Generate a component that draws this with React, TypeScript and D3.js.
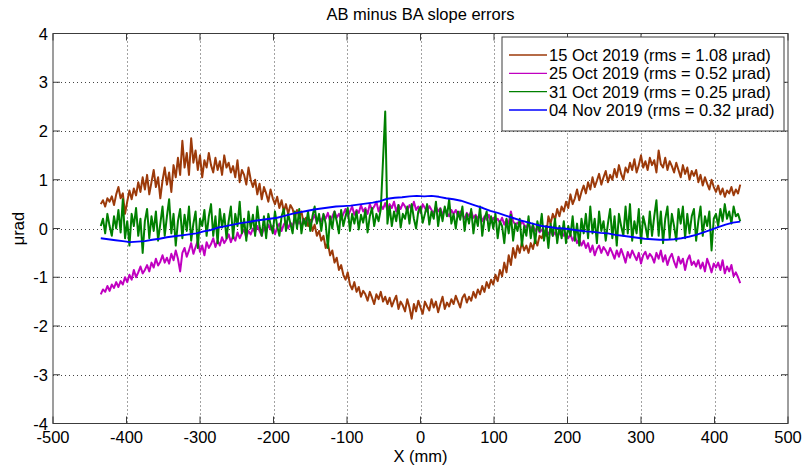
import React from "react";
import * as d3 from "d3";

const xTicks = [-500, -400, -300, -200, -100, 0, 100, 200, 300, 400, 500];
const yTicks = [-4, -3, -2, -1, 0, 1, 2, 3, 4];
const seriesNames = [
  "15 Oct 2019 (rms = 1.08 \u03bcrad)",
  "25 Oct 2019 (rms = 0.52 \u03bcrad)",
  "31 Oct 2019 (rms = 0.25 \u03bcrad)",
  "04 Nov 2019 (rms = 0.32 \u03bcrad)",
];
const seriesColors = ["#9c3a0a", "#c000c0", "#008000", "#0000ff"];

// sampling grid (mm) for the noisy series: -435..435 step 3
const xNoisy = d3.range(-435, 435.5, 3);
// sampling grid (mm) for the smooth series: -435..435 step 10
const xSmooth = d3.range(-435, 436, 10);

const oct15 = [
  0.50, 0.58, 0.45, 0.62, 0.55, 0.66, 0.48, 0.70, 0.85, 0.62,
  0.72, 0.30, 0.55, 0.78, 0.60, 0.82, 0.68, 0.95, 0.75, 1.05,
  0.80, 1.10, 0.70, 0.95, 1.20, 0.85, 1.05, 0.62, 0.98, 1.25,
  0.90, 1.15, 0.75, 1.30, 1.05, 1.45, 1.10, 1.80, 1.25, 1.55,
  1.10, 1.85, 1.35, 1.60, 1.20, 1.50, 1.05, 1.40, 1.25, 1.55,
  1.30, 1.15, 1.45, 1.20, 1.38, 1.10, 1.50, 1.25, 1.35, 1.15,
  1.28, 1.05, 1.40, 0.95, 1.20, 1.10, 0.90, 1.25, 1.00, 0.85,
  1.00, 0.70, 0.92, 0.60, 0.85, 0.72, 0.55, 0.80, 0.62, 0.50,
  0.65, 0.42, 0.58, 0.35, 0.50, 0.30, 0.48, 0.40, 0.22, 0.38,
  0.25, 0.35, 0.10, 0.22, 0.05, 0.18, -0.05, 0.08, -0.15, -0.05,
  -0.25, -0.15, -0.40, -0.30, -0.55, -0.45, -0.70, -0.60, -0.85, -0.75,
  -0.95, -1.05, -0.90, -1.15, -1.25, -1.10, -1.30, -1.20, -1.40, -1.28,
  -1.35, -1.48, -1.30, -1.42, -1.55, -1.35, -1.45, -1.30, -1.50, -1.40,
  -1.55, -1.42, -1.60, -1.48, -1.38, -1.65, -1.50, -1.58, -1.70, -1.45,
  -1.62, -1.85, -1.55, -1.70, -1.48, -1.62, -1.75, -1.50, -1.60, -1.68,
  -1.45, -1.62, -1.50, -1.72, -1.55, -1.40, -1.65, -1.52, -1.60, -1.45,
  -1.55, -1.38, -1.50, -1.62, -1.42, -1.35, -1.52, -1.40, -1.48, -1.30,
  -1.42, -1.25, -1.35, -1.18, -1.30, -1.10, -1.22, -1.05, -1.15, -0.95,
  -1.08, -0.85, -0.98, -0.70, -0.90, -0.55, -0.75, -0.40, -0.60, -0.35,
  -0.50, -0.28, -0.45, -0.35, -0.50, -0.30, -0.42, -0.22, -0.35, -0.15,
  -0.20, -0.05, -0.15, 0.25, 0.10, 0.30, 0.18, 0.40, 0.25, 0.45,
  0.35, 0.55, 0.42, 0.70, 0.50, 0.62, 0.80, 0.58, 0.75, 0.88,
  0.72, 0.95, 0.80, 1.05, 0.85, 0.98, 1.12, 0.90, 1.05, 1.18,
  0.95, 1.10, 1.00, 1.22, 1.05, 1.30, 1.12, 1.00, 1.25, 1.15,
  1.35, 1.20, 1.42, 1.15, 1.30, 1.50, 1.25, 1.38, 1.20, 1.45,
  1.30, 1.40, 1.15, 1.60, 1.32, 1.25, 1.45, 1.20, 1.38, 1.28,
  1.15, 1.35, 1.20, 1.05, 1.30, 1.12, 1.25, 1.00, 1.18, 1.08,
  1.20, 0.95, 1.10, 0.88, 1.05, 0.92, 0.80, 1.00, 0.85, 0.75,
  0.88, 0.70, 0.82, 0.65, 0.78, 0.72, 0.85, 0.68, 0.80, 0.72,
  0.90,
];

const oct25 = [
  -1.35, -1.25, -1.30, -1.18, -1.28, -1.15, -1.22, -1.10, -1.20, -1.08,
  -1.15, -1.00, -1.10, -0.95, -1.05, -0.85, -1.00, -0.90, -0.78, -0.92,
  -0.85, -0.75, -0.88, -0.70, -0.80, -0.62, -0.76, -0.68, -0.55, -0.70,
  -0.60, -0.72, -0.52, -0.65, -0.45, -0.62, -0.88, -0.50, -0.40, -0.58,
  -0.45, -0.30, -0.52, -0.38, -0.25, -0.48, -0.35, -0.55, -0.28, -0.40,
  -0.32, -0.20, -0.38, -0.25, -0.35, -0.18, -0.30, -0.22, -0.12, -0.28,
  -0.15, -0.25, -0.08, -0.20, -0.10, -0.02, -0.18, -0.05, -0.12, 0.00,
  -0.08, 0.05, -0.05, -0.15, 0.02, -0.08, 0.08, -0.02, 0.05, -0.12,
  0.02, 0.10, -0.05, 0.08, 0.15, 0.00, 0.12, 0.05, 0.18, 0.08,
  0.15, 0.05, 0.20, 0.10, 0.25, 0.08, 0.18, 0.28, 0.12, 0.22,
  0.15, 0.28, 0.20, 0.32, 0.15, 0.25, 0.35, 0.22, 0.30, 0.18,
  0.30, 0.40, 0.25, 0.35, 0.45, 0.28, 0.38, 0.32, 0.48, 0.35,
  0.42, 0.30, 0.50, 0.38, 0.45, 0.55, 0.35, 0.48, 0.40, 0.52,
  0.38, 0.50, 0.42, 0.55, 0.35, 0.48, 0.40, 0.52, 0.45, 0.36,
  0.48, 0.40, 0.55, 0.38, 0.45, 0.32, 0.50, 0.42, 0.35, 0.46,
  0.38, 0.30, 0.45, 0.35, 0.42, 0.28, 0.40, 0.32, 0.25, 0.38,
  0.30, 0.38, 0.25, 0.35, 0.28, 0.20, 0.32, 0.25, 0.35, 0.22,
  0.28, 0.20, 0.30, 0.15, 0.25, 0.18, 0.28, 0.12, 0.22, 0.15,
  0.20, 0.12, 0.22, 0.08, 0.18, 0.10, 0.35, 0.15, 0.08, 0.12,
  0.05, 0.15, 0.08, 0.02, 0.10, -0.02, 0.06, -0.05, 0.02, -0.08,
  -0.02, -0.10, 0.00, -0.12, -0.05, -0.15, -0.08, -0.18, -0.10, -0.05,
  -0.15, -0.10, -0.20, -0.12, -0.25, -0.15, -0.30, -0.22, -0.35, -0.25,
  -0.40, -0.30, -0.48, -0.35, -0.55, -0.42, -0.35, -0.50, -0.38, -0.45,
  -0.55, -0.40, -0.50, -0.62, -0.45, -0.58, -0.42, -0.55, -0.70, -0.48,
  -0.60, -0.45, -0.55, -0.65, -0.50, -0.72, -0.55, -0.48, -0.62, -0.52,
  -0.58, -0.70, -0.50, -0.62, -0.45, -0.68, -0.55, -0.75, -0.60, -0.52,
  -0.68, -0.80, -0.58, -0.72, -0.62, -0.85, -0.65, -0.55, -0.75, -0.68,
  -0.78, -0.65, -0.82, -0.70, -0.88, -0.62, -0.75, -0.90, -0.72, -0.80,
  -0.70, -0.85, -0.65, -0.92, -0.78, -0.88, -0.75, -0.98, -0.90, -1.00,
  -1.12,
];

const oct31 = [
  0.05, 0.20, -0.10, 0.30, 0.05, -0.15, 0.25, 0.00, 0.38, -0.08,
  0.60, -0.20, 0.15, -0.35, 0.30, 0.05, 0.42, -0.15, 0.20, -0.50,
  0.15, 0.40, -0.20, 0.25, -0.05, 0.35, -0.25, 0.10, 0.45, -0.15,
  0.25, 0.60, -0.10, 0.30, -0.35, 0.15, 0.40, -0.20, 0.28, -0.05,
  0.45, -0.25, 0.10, 0.35, -0.40, 0.20, 0.05, 0.38, -0.15, 0.25,
  0.50, -0.15, 0.25, -0.30, 0.40, 0.02, 0.30, -0.20, 0.15, 0.45,
  -0.20, 0.30, 0.05, 0.55, -0.10, 0.20, -0.25, 0.35, 0.00, 0.28,
  -0.15, 0.45, 0.05, -0.15, 0.25, -0.20, 0.30, 0.08, -0.10, 0.35,
  0.05, -0.15, 0.25, 0.40, -0.05, 0.30, 0.10, -0.10, 0.35, 0.00,
  0.40, -0.10, 0.20, 0.05, 0.35, -0.05, 0.25, 0.45, 0.10, 0.30,
  -0.05, 0.30, 0.10, -0.40, 0.25, 0.00, 0.35, 0.15, -0.10, 0.38,
  0.05, 0.25, 0.42, -0.05, 0.30, 0.10, 0.35, -0.02, 0.28, 0.12,
  0.38, -0.08, 0.25, 0.42, 0.05, 0.30, 0.15, 0.40, 1.40, 2.40,
  0.10, 0.45, 0.05, 0.35, 0.15, 0.48, 0.02, 0.30, 0.20, 0.45,
  0.10, 0.50, 0.20, 0.00, 0.35, 0.45, 0.12, 0.30, 0.50, 0.08,
  0.35, 0.20, 0.55, 0.05, 0.40, 0.15, 0.45, 0.25, 0.60, 0.10,
  0.30, 0.00, 0.35, 0.18, 0.45, -0.05, 0.30, 0.10, 0.40, -0.10,
  0.25, 0.05, 0.45, -0.15, 0.20, 0.35, -0.05, 0.25, 0.00, 0.30,
  -0.20, 0.15, 0.05, -0.30, 0.20, -0.10, 0.28, -0.25, 0.10, -0.05,
  0.20, -0.35, 0.05, -0.15, 0.25, -0.20, 0.10, -0.30, 0.15, -0.05,
  0.30, -0.25, 0.05, -0.40, 0.10, -0.15, 0.20, -0.30, 0.05, -0.20,
  0.15, -0.30, 0.05, -0.15, 0.25, -0.25, 0.10, -0.35, 0.20, -0.10,
  0.30, -0.20, 0.45, -0.10, 0.20, -0.30, 0.35, -0.05, 0.15, -0.25,
  0.10, 0.40, -0.20, 0.25, -0.35, 0.30, 0.05, -0.15, 0.45, -0.10,
  0.50, -0.25, 0.15, -0.10, 0.40, -0.30, 0.25, 0.05, -0.20, 0.35,
  -0.15, 0.25, 0.58, -0.15, 0.35, -0.30, 0.20, 0.45, -0.20, 0.30,
  0.05, -0.25, 0.40, 0.10, 0.45, -0.20, 0.30, -0.10, 0.25, 0.40,
  -0.25, 0.15, 0.45, -0.15, 0.25, 0.05, 0.35, -0.45, 0.20, 0.30,
  0.05, 0.40, 0.15, 0.50, 0.20, 0.35, 0.10, 0.45, 0.25, 0.30,
  0.15,
];

const nov04 = [
  -0.2, -0.22, -0.24, -0.26, -0.28, -0.27, -0.26, -0.23, -0.21, -0.18,
  -0.16, -0.14, -0.12, -0.1, -0.06, -0.03, 0.02, 0.05, 0.08, 0.11,
  0.13, 0.16, 0.18, 0.2, 0.22, 0.26, 0.3, 0.33, 0.36, 0.39,
  0.41, 0.43, 0.45, 0.46, 0.47, 0.49, 0.51, 0.53, 0.56, 0.61,
  0.63, 0.64, 0.66, 0.67, 0.66, 0.67, 0.65, 0.62, 0.6, 0.57,
  0.52, 0.47, 0.42, 0.36, 0.32, 0.27, 0.22, 0.17, 0.13, 0.09,
  0.05, 0.03, 0.01, 0.0, -0.02, -0.04, -0.06, -0.07, -0.09, -0.1,
  -0.13, -0.15, -0.17, -0.19, -0.21, -0.22, -0.23, -0.23, -0.22, -0.2,
  -0.17, -0.13, -0.08, -0.03, 0.03, 0.08, 0.12, 0.14,
];

const seriesData = [
  { x: xNoisy, y: oct15 },
  { x: xNoisy, y: oct25 },
  { x: xNoisy, y: oct31 },
  { x: xSmooth, y: nov04 },
];

const W = 804;
const H = 466;
const left = 53;
const right = 788;
const top = 33.5;
const bottom = 423.5;

export default function App() {
  const xs = d3.scaleLinear().domain([-500, 500]).range([left, right]);
  const ys = d3.scaleLinear().domain([-4, 4]).range([bottom, top]);
  const font = "'Liberation Sans', Arial, sans-serif";
  const tickLen = 7;
  const axisColor = "#3c3c3c";
  const fs = 16.5;

  const line = d3
    .line<[number, number]>()
    .x((d) => xs(d[0]))
    .y((d) => ys(d[1]));

  const legX = 502;
  const legY = 37;
  const legW = 282;
  const legH = 94;
  const rowY = [55, 73.3, 91.6, 110];

  return (
    <svg
      width={W}
      height={H}
      style={{ position: "absolute", left: 0, top: 0, background: "#fff" }}
      fontFamily={font}
    >
      <rect x={0} y={0} width={W} height={H} fill="#fff" />
      {/* grid */}
      {xTicks.slice(1, -1).map((t) => (
        <line
          key={"gx" + t}
          x1={Math.round(xs(t)) + 0.5}
          x2={Math.round(xs(t)) + 0.5}
          y1={top}
          y2={bottom}
          stroke="#444"
          strokeWidth={1}
          strokeDasharray="1,3"
        />
      ))}
      {yTicks.slice(1, -1).map((t) => (
        <line
          key={"gy" + t}
          x1={left}
          x2={right}
          y1={Math.round(ys(t)) + 0.5}
          y2={Math.round(ys(t)) + 0.5}
          stroke="#444"
          strokeWidth={1}
          strokeDasharray="1,3"
        />
      ))}
      <defs>
        <clipPath id="clip">
          <rect x={left} y={top} width={right - left} height={bottom - top} />
        </clipPath>
      </defs>
      {/* data */}
      <g clipPath="url(#clip)">
        {seriesData.map((s, i) => (
          <path
            key={i}
            d={line(s.x.map((xv, j) => [xv, s.y[j]] as [number, number])) || ""}
            fill="none"
            stroke={seriesColors[i]}
            strokeWidth={i === 3 ? 1.9 : 2}
            strokeLinejoin="round"
          />
        ))}
      </g>
      {/* ticks */}
      {xTicks.map((t) => (
        <g key={"tx" + t}>
          <line x1={xs(t)} x2={xs(t)} y1={bottom} y2={bottom - tickLen} stroke={axisColor} />
          <line x1={xs(t)} x2={xs(t)} y1={top} y2={top + tickLen} stroke={axisColor} />
          <text x={xs(t)} y={443} textAnchor="middle" fontSize={fs} fill="#000">
            {t}
          </text>
        </g>
      ))}
      {yTicks.map((t) => (
        <g key={"ty" + t}>
          <line x1={left} x2={left + tickLen} y1={ys(t)} y2={ys(t)} stroke={axisColor} />
          <line x1={right} x2={right - tickLen} y1={ys(t)} y2={ys(t)} stroke={axisColor} />
          <text x={48} y={ys(t) + 6} textAnchor="end" fontSize={fs} fill="#000">
            {t}
          </text>
        </g>
      ))}
      {/* box */}
      <rect
        x={left}
        y={top}
        width={right - left}
        height={bottom - top}
        fill="none"
        stroke={axisColor}
        strokeWidth={1}
      />
      {/* title and labels */}
      <text x={(left + right) / 2} y={20} textAnchor="middle" fontSize={fs} fill="#000">
        AB minus BA slope errors
      </text>
      <text x={(left + right) / 2} y={462} textAnchor="middle" fontSize={fs} fill="#000">
        X (mm)
      </text>
      <text
        transform={`translate(24, ${(top + bottom) / 2}) rotate(-90)`}
        textAnchor="middle"
        fontSize={fs}
        fill="#000"
      >
        {"\u03bcrad"}
      </text>
      {/* legend */}
      <rect x={legX} y={legY} width={legW} height={legH} fill="#fff" stroke={axisColor} strokeWidth={1} />
      {seriesNames.map((name, i) => (
        <g key={"leg" + i}>
          <line x1={509} x2={547} y1={rowY[i]} y2={rowY[i]} stroke={seriesColors[i]} strokeWidth={1.3} />
          <text x={549} y={rowY[i] + 6} fontSize={fs} fill="#000">
            {name}
          </text>
        </g>
      ))}
    </svg>
  );
}
